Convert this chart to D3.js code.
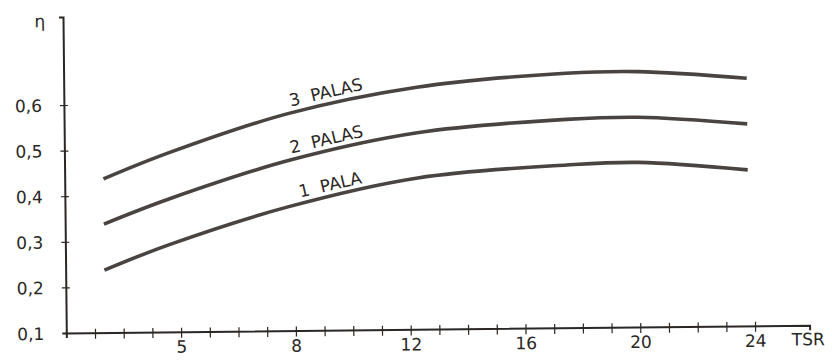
<!DOCTYPE html>
<html><head><meta charset="utf-8">
<script src="https://cdn.jsdelivr.net/npm/d3@7"></script>
<style>html,body{margin:0;padding:0;background:#fff;} svg{display:block}</style>
</head><body>
<svg id="c" width="832" height="363"></svg>
<script>
// ---- data ----
const tsr     = [1.35, 3.6, 7.8, 12.3, 17.5, 20.0, 23.8];
const pala1   = [0.237, 0.291, 0.372, 0.432, 0.457, 0.461, 0.442];
const palas2  = [0.338, 0.391, 0.473, 0.531, 0.557, 0.560, 0.543];
const palas3  = [0.437, 0.492, 0.576, 0.631, 0.658, 0.660, 0.643];
const seriesNumbers = ["1", "2", "3"];
const seriesWords   = ["PALA", "PALAS", "PALAS"];
const xMinorTicks = [1,2,3,4,5,6,7,8,9,10,11,12,13,14,15,16,17,18,19,20,21,22,23,24];
const xTickValues = [4, 8, 12, 16, 20, 24];
const xTickLabels = ["5", "8", "12", "16", "20", "24"];
const yTickValues = [0.1, 0.2, 0.3, 0.4, 0.5, 0.6];
const yTickLabels = ["0,1", "0,2", "0,3", "0,4", "0,5", "0,6"];
const xTitle = "TSR";
const yTitle = "η";

// ---- layout ----
const ox = 66.3, oy = 333;
const x = d3.scaleLinear().domain([0, 25.9]).range([ox, ox + 25.9 * 28.7]);
const y = d3.scaleLinear().domain([0.1, 0.793]).range([oy, 17]);
const ink = "#2a2725", lineInk = "#4a4440";
const font = "DejaVu Sans, Verdana, sans-serif";

const svg = d3.select("#c");
svg.append("rect").attr("width", 832).attr("height", 363).attr("fill", "#fff");
const g = svg.append("g").attr("transform", `rotate(-0.6,${ox},${oy})`);

// x axis
const xa = g.append("g").attr("transform", `translate(0,${oy})`)
  .call(d3.axisBottom(x).tickValues(xMinorTicks).tickSizeOuter(0).tickSize(5)
    .tickFormat(d => { const i = xTickValues.indexOf(d); return i >= 0 ? xTickLabels[i] : ""; }));
xa.select(".domain").attr("stroke", ink).attr("stroke-width", 2);
xa.selectAll(".tick line").attr("y1", -4).attr("y2", 6).attr("stroke", ink).attr("stroke-width", 1.2);
xa.selectAll(".tick text").attr("y", 21).attr("dy", 0).attr("fill", ink)
  .attr("font-family", font).attr("font-size", 17);

// y axis
const ya = g.append("g").attr("transform", `translate(${ox},0)`)
  .call(d3.axisLeft(y).tickValues(yTickValues).tickSizeOuter(0).tickSize(4)
    .tickFormat((d, i) => yTickLabels[i]));
ya.select(".domain").attr("stroke", ink).attr("stroke-width", 2);
ya.selectAll(".tick line").attr("x1", -4).attr("x2", 4).attr("stroke", ink).attr("stroke-width", 1.2)
  .filter(d => d === 0.1).remove();
ya.selectAll(".tick text").attr("x", -22).attr("dy", "0.36em").attr("fill", ink)
  .attr("font-family", font).attr("font-size", 17).attr("text-anchor", "end");

// axis titles
g.append("text").attr("x", x.range()[1] - 18).attr("y", oy + 20)
  .attr("font-family", font).attr("font-size", 17).attr("fill", ink).text(xTitle);
g.append("text").attr("x", 43).attr("y", 27).attr("text-anchor", "middle")
  .attr("font-family", font).attr("font-size", 17).attr("fill", ink).text(yTitle);

// curves
const series = [pala1, palas2, palas3];
const line = d3.line().x((d, i) => x(tsr[i])).y(d => y(d)).curve(d3.curveCatmullRom.alpha(0.5));
g.selectAll("path.curve").data(series).join("path").attr("class", "curve")
  .attr("d", line).attr("fill", "none").attr("stroke", lineInk).attr("stroke-width", 3.6);

// curve labels
const labelX = [8.2, 7.9, 7.9];
series.forEach((s, k) => {
  const lx = labelX[k];
  let v = s[0];
  for (let i = 0; i < tsr.length - 1; i++) {
    if (lx >= tsr[i] && lx <= tsr[i + 1]) {
      const t = (lx - tsr[i]) / (tsr[i + 1] - tsr[i]);
      v = s[i] + t * (s[i + 1] - s[i]);
    }
  }
  const px = x(lx), py = y(v) - 6.5;
  const t = g.append("text").attr("transform", `translate(${px},${py}) rotate(-12.5)`)
    .attr("font-family", font).attr("font-size", 17).attr("fill", ink);
  t.append("tspan").text(seriesNumbers[k]);
  t.append("tspan").attr("dx", 11).text(seriesWords[k]);
});
</script>
</body></html>
